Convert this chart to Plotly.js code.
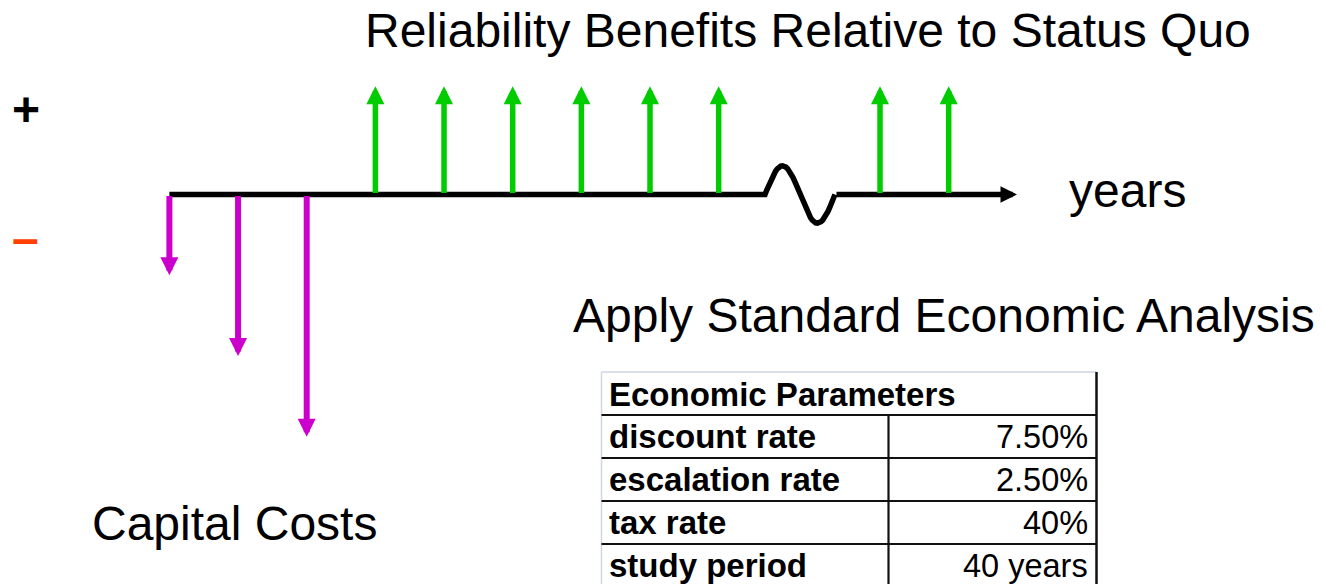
<!DOCTYPE html>
<html><head><meta charset="utf-8">
<script src="https://cdn.plot.ly/plotly-3.0.1.min.js"></script>
<style>html,body{margin:0;padding:0;background:#fff;overflow:hidden}#chart{width:1322px;height:584px;}</style>
</head><body><div id="chart"></div>
<script>
// ---------- data ----------
const costYears = [0, 1, 2];
const costValues = [-1, -2, -3];
const benefitYears = [3, 4, 5, 6, 7, 8, 39, 40];
const benefitValues = [1.34, 1.34, 1.34, 1.34, 1.34, 1.34, 1.34, 1.34];
const chartTitle = 'Reliability Benefits Relative to Status Quo';
const axisLabel = 'years';
const subTitle = 'Apply Standard Economic Analysis';
const costLabel = 'Capital Costs';
const tableTitle = 'Economic Parameters';
const paramNames = ['discount rate', 'escalation rate', 'tax rate', 'study period'];
const paramValues = ['7.50%', '2.50%', '40%', '40 years'];

// ---------- layout helpers ----------
const W = 1322, H = 584;
const X = p => p / W;
const Y = p => 1 - p / H;
const FONT = 'Liberation Sans, Arial, sans-serif';

// broken time axis: far-future years are drawn shifted left after the break
const breakYear = 9;
const breakShift = 28.65;
const toPos = yr => yr > breakYear ? yr - breakShift : yr;
const axisStart = 0, breakFrom = 8.675, breakTo = 9.694, axisEnd = 12.345;
const waveAmp = 0.355;

const waveX = [], waveY = [];
waveX.push(axisStart); waveY.push(0);
for (let i = 0; i <= 40; i++) {
  const t = i / 40;
  waveX.push(breakFrom + (breakTo - breakFrom) * t);
  waveY.push(waveAmp * Math.sin(2 * Math.PI * t));
}

const traces = [{
  type: 'scatter', mode: 'lines', x: waveX, y: waveY,
  line: {color: '#000', width: 5.5, shape: 'linear'}, hoverinfo: 'skip'
}];

const annotations = [];
// axis arrow after the break
annotations.push({xref: 'x', yref: 'y', axref: 'x', ayref: 'y', x: axisEnd, y: 0, ax: breakTo, ay: 0,
  text: '', showarrow: true, arrowhead: 2, arrowsize: 0.6, arrowwidth: 5.5, arrowcolor: '#000', standoff: 0});
// capital costs (down)
costYears.forEach((yr, i) => annotations.push({xref: 'x', yref: 'y', axref: 'x', ayref: 'y',
  x: toPos(yr), y: costValues[i], ax: toPos(yr), ay: 0, text: '', showarrow: true,
  arrowhead: 2, arrowsize: 0.6, arrowwidth: 6, arrowcolor: '#cc00cc', standoff: 0}));
// benefits (up)
benefitYears.forEach((yr, i) => annotations.push({xref: 'x', yref: 'y', axref: 'x', ayref: 'y',
  x: toPos(yr), y: benefitValues[i], ax: toPos(yr), ay: 0, text: '', showarrow: true,
  arrowhead: 2, arrowsize: 0.655, arrowwidth: 5.5, arrowcolor: '#00cc00', standoff: 0}));

const txt = (text, x, y, size, xanchor, color) => ({xref: 'paper', yref: 'paper', x: X(x), y: Y(y),
  xanchor: xanchor || 'left', yanchor: 'middle', text: text, showarrow: false,
  font: {family: FONT, size: size, color: color || '#000'}});

annotations.push(txt(chartTitle, 362.5, 30.4, 48));
annotations.push(txt(axisLabel, 1067, 190, 48));
annotations.push(txt(subTitle, 571, 315.5, 48));
annotations.push(txt(costLabel, 90, 523.4, 48));
annotations.push(txt('<b>+</b>', 26, 109.5, 48, 'center'));
annotations.push(txt('<b>–</b>', 25.7, 238.7, 48, 'center', '#ff4000'));

// table
const tLeft = 601.5, tRight = 1096.5, tTop = 372, rowH = 43, tDiv = 888.5;
const tBottom = tTop + rowH * (paramNames.length + 1) - 1;
annotations.push(txt('<b>' + tableTitle + '</b>', 607, tTop + rowH - 20.6, 33));
paramNames.forEach((n, i) => {
  const cy = tTop + rowH * (i + 1) + 21.6;
  annotations.push(txt('<b>' + n + '</b>', 607, cy, 33));
  annotations.push(txt(paramValues[i], 1090, cy, 32.5, 'right'));
});

const shapes = [];
const ln = (x0, y0, x1, y1, color, width) => ({type: 'line', xref: 'paper', yref: 'paper',
  x0: X(x0), y0: Y(y0), x1: X(x1), y1: Y(y1), line: {color: color, width: width}});
shapes.push(ln(tLeft, tTop, tRight, tTop, '#cfd5e2', 1.5));
shapes.push(ln(tLeft, tTop, tLeft, tBottom, '#cfd5e2', 1.5));
for (let i = 1; i <= paramNames.length; i++) {
  shapes.push(ln(tLeft, tTop + rowH * i, tRight, tTop + rowH * i, '#111', 2.2));
}
shapes.push(ln(tDiv, tTop + rowH, tDiv, tBottom, '#111', 2.2));
shapes.push(ln(tRight, tTop, tRight, tBottom, '#111', 2.5));

const layout = {
  width: W, height: H, margin: {l: 0, r: 0, t: 0, b: 0, pad: 0},
  paper_bgcolor: '#fff', plot_bgcolor: '#fff', showlegend: false,
  xaxis: {range: [-2.467, 16.787], visible: false, fixedrange: true},
  yaxis: {range: [-4.821, 2.407], visible: false, fixedrange: true},
  annotations: annotations, shapes: shapes
};
Plotly.newPlot('chart', traces, layout, {staticPlot: true, displayModeBar: false});
</script></body></html>
